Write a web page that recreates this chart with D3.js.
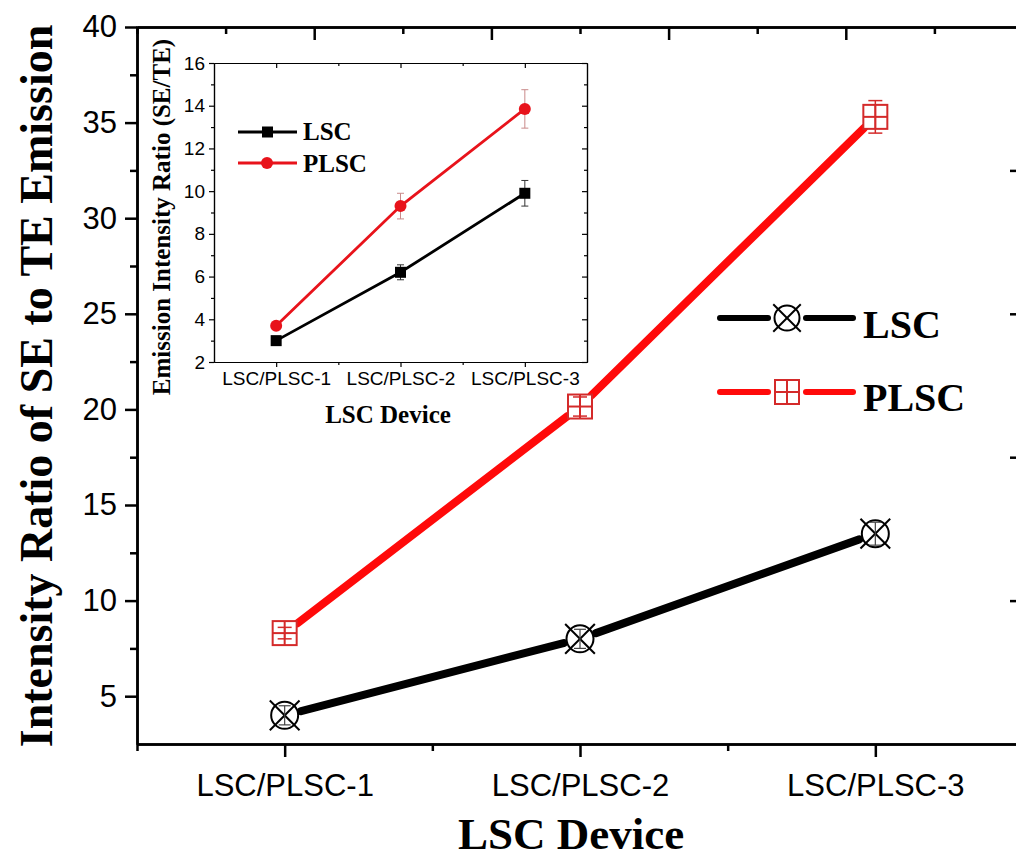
<!DOCTYPE html>
<html><head><meta charset="utf-8">
<script src="https://cdn.jsdelivr.net/npm/d3@7"></script>
<style>
body{margin:0;background:#fff}
svg{display:block}
</style></head>
<body><svg id="svg" width="1016" height="858"></svg>
<script>
// data
const categories = ["LSC/PLSC-1", "LSC/PLSC-2", "LSC/PLSC-3"];
const lscMain = [4.0, 8.0, 13.5];
const lscMainErr = [0.5, 0.5, 0.6];
const plscMain = [8.3, 20.15, 35.3];
const plscMainErr = [0.3, 0.5, 0.85];
const yTicksMain = [5, 10, 15, 20, 25, 30, 35, 40];

const lscInset = [3.0, 6.2, 9.9];
const lscInsetErr = [0.15, 0.35, 0.6];
const plscInset = [3.7, 9.3, 13.85];
const plscInsetErr = [0.15, 0.6, 0.9];
const yTicksInset = [2, 4, 6, 8, 10, 12, 14, 16];

const RED = "#ff0a0a", RED_MK = "#d42a2a", INSET_RED = "#e8131b";
const SANS = "'Liberation Sans', Arial, sans-serif";
const SERIF = "'Liberation Serif', 'Times New Roman', serif";

const svg = d3.select("#svg");

// ---------- main chart ----------
const x = d3.scaleLinear().domain([0.5, 3.5]).range([137, 1023]);
const y = d3.scaleLinear().domain([2.5, 40]).range([744, 27]);
const frameX = d3.scaleLinear().domain([0, 5]).range([137, 1023]);
const frameY = d3.scaleLinear().domain([0, 5]).range([744, 27]);

function styleAxis(g, w, fs, font) {
  g.selectAll("path.domain").attr("stroke", "#000").attr("stroke-width", w);
  g.selectAll(".tick line").attr("stroke", "#000").attr("stroke-width", w);
  g.selectAll(".tick text").attr("fill", "#000").style("font-family", font || SANS).style("font-size", fs + "px");
}

const main = svg.append("g");

// top + right frame (inward ticks)
main.append("g").attr("transform", "translate(0,27)")
  .call(d3.axisTop(frameX).tickValues([0.5, 1.5, 2.5, 3.5, 4.5]).tickSize(-7).tickFormat(""))
  .call(g => styleAxis(g, 2.5, 10));
main.append("g").attr("transform", "translate(0,27)")
  .call(d3.axisTop(frameX).tickValues([1, 2, 3, 4]).tickSize(-13).tickSizeOuter(0).tickFormat(""))
  .call(g => styleAxis(g, 2.5, 10));
main.append("g").attr("transform", "translate(1023,0)")
  .call(d3.axisRight(frameY).tickValues([0.5, 1.5, 2.5, 3.5, 4.5]).tickSize(-7).tickFormat(""))
  .call(g => styleAxis(g, 2.5, 10));
main.append("g").attr("transform", "translate(1023,0)")
  .call(d3.axisRight(frameY).tickValues([1, 2, 3, 4]).tickSize(-13).tickSizeOuter(0).tickFormat(""))
  .call(g => styleAxis(g, 2.5, 10));

// bottom axis
main.append("g").attr("transform", "translate(0,744)")
  .call(d3.axisBottom(x).tickValues([0.5, 1.5, 2.5]).tickSize(7).tickSizeOuter(0).tickFormat(""))
  .call(g => styleAxis(g, 2.5, 10));
main.append("g").attr("transform", "translate(0,744)")
  .call(d3.axisBottom(x).tickValues([1, 2, 3]).tickSize(13).tickSizeOuter(0).tickPadding(17)
    .tickFormat(i => categories[i - 1]))
  .call(g => styleAxis(g, 2.5, 31));

// left axis
main.append("g").attr("transform", "translate(137,0)")
  .call(d3.axisLeft(y).tickValues(yTicksMain.map(v => v - 2.5).filter(v => v > 2.5)).tickSize(7).tickSizeOuter(0).tickFormat(""))
  .call(g => styleAxis(g, 2.5, 10));
main.append("g").attr("transform", "translate(137,0)")
  .call(d3.axisLeft(y).tickValues(yTicksMain).tickSize(12).tickSizeOuter(0).tickPadding(8))
  .call(g => styleAxis(g, 2.5, 31));

// lines with a gap to the symbols
function gapLines(g, vals, xs, ys, color, width, gap) {
  const pts = vals.map((v, i) => [xs(i + 1), ys(v)]);
  const segs = d3.pairs(pts).map(([a, b]) => {
    const dx = b[0] - a[0], dy = b[1] - a[1], L = Math.hypot(dx, dy);
    const ux = dx / L, uy = dy / L;
    return [a[0] + ux * gap, a[1] + uy * gap, b[0] - ux * gap, b[1] - uy * gap];
  });
  g.selectAll(null).data(segs).enter().append("line")
    .attr("x1", d => d[0]).attr("y1", d => d[1]).attr("x2", d => d[2]).attr("y2", d => d[3])
    .attr("stroke", color).attr("stroke-width", width).attr("stroke-linecap", "round");
}

function circleX(g, cx, cy, r, color, w) {
  g.append("circle").attr("cx", cx).attr("cy", cy).attr("r", r)
    .attr("fill", "#fff").attr("stroke", color).attr("stroke-width", w);
  const k = r * 1.1;
  g.append("line").attr("x1", cx - k).attr("y1", cy - k).attr("x2", cx + k).attr("y2", cy + k)
    .attr("stroke", color).attr("stroke-width", w);
  g.append("line").attr("x1", cx - k).attr("y1", cy + k).attr("x2", cx + k).attr("y2", cy - k)
    .attr("stroke", color).attr("stroke-width", w);
}
function squarePlus(g, cx, cy, s, color, w) {
  g.append("rect").attr("x", cx - s / 2).attr("y", cy - s / 2).attr("width", s).attr("height", s)
    .attr("fill", "#fff").attr("stroke", color).attr("stroke-width", w);
  g.append("line").attr("x1", cx - s / 2).attr("x2", cx + s / 2).attr("y1", cy).attr("y2", cy)
    .attr("stroke", color).attr("stroke-width", w);
  g.append("line").attr("x1", cx).attr("x2", cx).attr("y1", cy - s / 2).attr("y2", cy + s / 2)
    .attr("stroke", color).attr("stroke-width", w);
}
function errBars(g, vals, errs, xs, ys, color, w, cap) {
  vals.forEach((v, i) => {
    const cx = xs(i + 1), y1 = ys(v - errs[i]), y2 = ys(v + errs[i]);
    g.append("line").attr("x1", cx).attr("x2", cx).attr("y1", y1).attr("y2", y2).attr("stroke", color).attr("stroke-width", w);
    [y1, y2].forEach(yy => g.append("line").attr("x1", cx - cap).attr("x2", cx + cap).attr("y1", yy).attr("y2", yy)
      .attr("stroke", color).attr("stroke-width", w));
  });
}

const series = main.append("g");
gapLines(series, plscMain, x, y, RED, 8, 16);
gapLines(series, lscMain, x, y, "#000", 8, 17);
plscMain.forEach((v, i) => squarePlus(series, x(i + 1), y(v), 24, RED_MK, 2));
lscMain.forEach((v, i) => circleX(series, x(i + 1), y(v), 13.5, "#000", 2));
errBars(series, plscMain, plscMainErr, x, y, RED_MK, 1.5, 7);
errBars(series, lscMain, lscMainErr, x, y, "#444", 1.2, 6);

// legend
const leg = main.append("g");
[["LSC", 318, 338, "#000"], ["PLSC", 392, 411, RED]].forEach(([name, ly, ty, col]) => {
  leg.append("line").attr("x1", 720).attr("x2", 768).attr("y1", ly).attr("y2", ly)
    .attr("stroke", col).attr("stroke-width", 6).attr("stroke-linecap", "round");
  leg.append("line").attr("x1", 806).attr("x2", 853).attr("y1", ly).attr("y2", ly)
    .attr("stroke", col).attr("stroke-width", 6).attr("stroke-linecap", "round");
  if (name === "LSC") circleX(leg, 787, ly, 12.5, "#000", 2);
  else squarePlus(leg, 787, ly, 24, RED_MK, 2);
  leg.append("text").attr("x", 863).attr("y", ty).text(name)
    .style("font-family", SERIF).style("font-weight", "bold").style("font-size", "40px");
});

// titles
main.append("text").attr("transform", "translate(52,386) rotate(-90)").attr("text-anchor", "middle")
  .text("Intensity Ratio of SE to TE Emission")
  .style("font-family", SERIF).style("font-weight", "bold").style("font-size", "46px");
main.append("text").attr("x", 571).attr("y", 849).attr("text-anchor", "middle").text("LSC Device")
  .style("font-family", SERIF).style("font-weight", "bold").style("font-size", "45px");

// ---------- inset ----------
const ix = d3.scaleLinear().domain([0.5, 3.5]).range([214, 587]);
const iy = d3.scaleLinear().domain([2, 16]).range([362, 63]);
const inset = svg.append("g");
const minorY = d3.range(3, 16, 2);

inset.append("g").attr("transform", "translate(0,63)")
  .call(d3.axisTop(ix).tickValues([1.5, 2.5]).tickSize(-3).tickSizeOuter(0).tickFormat(""))
  .call(g => styleAxis(g, 1.2, 10));
inset.append("g").attr("transform", "translate(0,63)")
  .call(d3.axisTop(ix).tickValues([1, 2, 3]).tickSize(-5).tickSizeOuter(0).tickFormat(""))
  .call(g => styleAxis(g, 1.2, 10));
inset.append("g").attr("transform", "translate(587,0)")
  .call(d3.axisRight(iy).tickValues(minorY).tickSize(-3).tickSizeOuter(0).tickFormat(""))
  .call(g => styleAxis(g, 1.2, 10));
inset.append("g").attr("transform", "translate(587,0)")
  .call(d3.axisRight(iy).tickValues(yTicksInset).tickSize(-5).tickSizeOuter(0).tickFormat(""))
  .call(g => styleAxis(g, 1.2, 10));
inset.append("g").attr("transform", "translate(0,362)")
  .call(d3.axisBottom(ix).tickValues([1.5, 2.5]).tickSize(3).tickSizeOuter(0).tickFormat(""))
  .call(g => styleAxis(g, 1.2, 10));
inset.append("g").attr("transform", "translate(0,362)")
  .call(d3.axisBottom(ix).tickValues([1, 2, 3]).tickSize(5).tickSizeOuter(0).tickPadding(5)
    .tickFormat(i => categories[i - 1]))
  .call(g => styleAxis(g, 1.2, 19));
inset.append("g").attr("transform", "translate(214,0)")
  .call(d3.axisLeft(iy).tickValues(minorY).tickSize(3).tickSizeOuter(0).tickFormat(""))
  .call(g => styleAxis(g, 1.2, 10));
inset.append("g").attr("transform", "translate(214,0)")
  .call(d3.axisLeft(iy).tickValues(yTicksInset).tickSize(5).tickSizeOuter(0).tickPadding(4))
  .call(g => styleAxis(g, 1.2, 19));

const iline = d3.line().x((d, i) => ix(i + 1)).y(d => iy(d));
inset.append("path").datum(lscInset).attr("d", iline).attr("fill", "none").attr("stroke", "#000").attr("stroke-width", 2.8);
inset.append("path").datum(plscInset).attr("d", iline).attr("fill", "none").attr("stroke", INSET_RED).attr("stroke-width", 2.8);
errBars(inset, lscInset, lscInsetErr, ix, iy, "#333", 1, 3.5);
errBars(inset, plscInset, plscInsetErr, ix, iy, "#c98a8a", 1, 3.5);
inset.selectAll(null).data(lscInset).enter().append("rect")
  .attr("x", (d, i) => ix(i + 1) - 5.5).attr("y", d => iy(d) - 5.5).attr("width", 11).attr("height", 11).attr("fill", "#000");
inset.selectAll(null).data(plscInset).enter().append("circle")
  .attr("cx", (d, i) => ix(i + 1)).attr("cy", d => iy(d)).attr("r", 6).attr("fill", INSET_RED);

// inset legend
[["LSC", 132, 140, "#000"], ["PLSC", 163, 172, INSET_RED]].forEach(([name, ly, ty, col]) => {
  inset.append("line").attr("x1", 238).attr("x2", 297).attr("y1", ly).attr("y2", ly).attr("stroke", col).attr("stroke-width", 2.8);
  if (name === "LSC") inset.append("rect").attr("x", 262).attr("y", ly - 5.5).attr("width", 11).attr("height", 11).attr("fill", col);
  else inset.append("circle").attr("cx", 267).attr("cy", ly).attr("r", 6).attr("fill", col);
  inset.append("text").attr("x", 303).attr("y", ty).text(name)
    .style("font-family", SERIF).style("font-weight", "bold").style("font-size", "25px");
});

inset.append("text").attr("transform", "translate(170,217) rotate(-90)").attr("text-anchor", "middle")
  .text("Emission Intensity Ratio (SE/TE)")
  .style("font-family", SERIF).style("font-weight", "bold").style("font-size", "25px");
inset.append("text").attr("x", 388).attr("y", 423).attr("text-anchor", "middle").text("LSC Device")
  .style("font-family", SERIF).style("font-weight", "bold").style("font-size", "25px");
</script>
</body></html>
